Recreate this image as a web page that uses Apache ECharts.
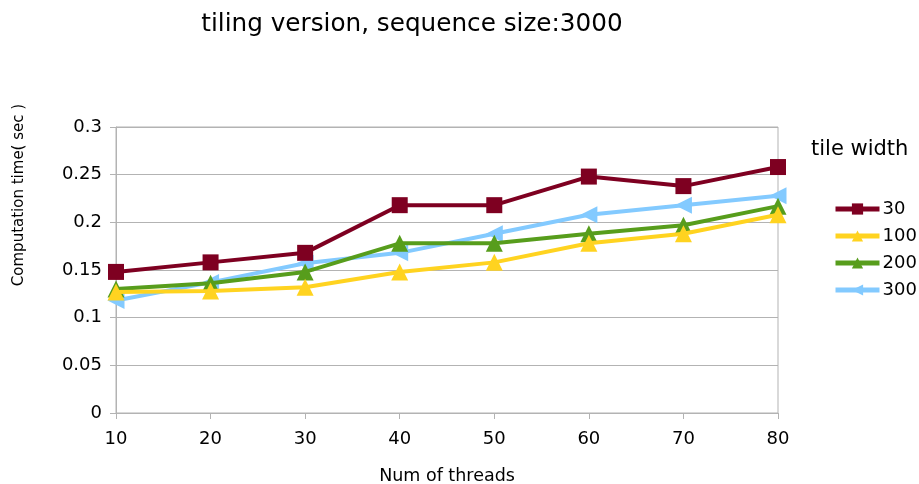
<!DOCTYPE html>
<html><head><meta charset="utf-8">
<script src="https://cdn.jsdelivr.net/npm/echarts@6/dist/echarts.min.js"></script>
<style>html,body{margin:0;padding:0;background:#fff}#c{width:919px;height:484px}</style>
</head><body><div id="c"></div>
<script>
const threads = [10, 20, 30, 40, 50, 60, 70, 80];
const seriesNames = ['30', '100', '200', '300'];
const w30 = [0.148, 0.158, 0.168, 0.218, 0.218, 0.248, 0.238, 0.258];
const w100 = [0.127, 0.128, 0.132, 0.148, 0.158, 0.178, 0.188, 0.208];
const w200 = [0.130, 0.136, 0.148, 0.178, 0.178, 0.188, 0.197, 0.217];
const w300 = [0.118, 0.137, 0.157, 0.168, 0.188, 0.208, 0.218, 0.228];
const yTicks = [0, 0.05, 0.1, 0.15, 0.2, 0.25, 0.3];

const colors = ['#7e0021', '#ffd320', '#579d1c', '#83caff'];
const symbols = ['rect', 'triangle', 'triangle', 'triangle'];
const rotates = [0, 0, 0, 90];
const allData = [w30, w100, w200, w300];
const font = 'DejaVu Sans';

const chart = echarts.init(document.getElementById('c'));
chart.setOption({
  animation: false,
  textStyle: {fontFamily: font},
  title: [{
    text: 'tiling version, sequence size:3000',
    left: 407, top: 7, textAlign: 'center',
    textStyle: {fontFamily: font, fontSize: 24.7, fontWeight: 'normal', color: '#000'}
  }, {
    text: 'tile width',
    left: 806, top: 134,
    textStyle: {fontFamily: font, fontSize: 21, fontWeight: 'normal', color: '#000'}
  }],
  graphic: [{
    type: 'text', x: 19, y: 195, rotation: Math.PI / 2,
    style: {text: 'Computation time( sec )', fontFamily: font, fontSize: 15, fill: '#000',
      textAlign: 'center', textVerticalAlign: 'middle'}
  }],
  legend: {
    orient: 'vertical',
    left: 828, top: 195, padding: 5,
    itemWidth: 44, itemHeight: 14, itemGap: 9,
    lineStyle: {width: 5},
    textStyle: {fontFamily: font, fontSize: 18, color: '#000', padding: [0, 0, 0, -2]},
    data: seriesNames
  },
  grid: {left: 116, right: 141, top: 127, bottom: 71, show: true, borderColor: '#b3b3b3', borderWidth: 1,
    containLabel: false, outerBoundsMode: 'none'},
  xAxis: {
    type: 'value', min: 10, max: 80, interval: 10,
    name: 'Num of threads', nameLocation: 'middle', nameGap: 54,
    nameTextStyle: {fontFamily: font, fontSize: 17.5, color: '#000'},
    axisLine: {lineStyle: {color: '#b3b3b3'}},
    axisTick: {show: true, length: 6, lineStyle: {color: '#b3b3b3'}},
    axisLabel: {fontFamily: font, fontSize: 18, color: '#000', margin: 17},
    splitLine: {show: false}
  },
  yAxis: {
    type: 'value', min: 0, max: 0.3, interval: 0.05,
    axisLine: {show: true, lineStyle: {color: '#b3b3b3'}},
    axisTick: {show: true, length: 6, lineStyle: {color: '#b3b3b3'}},
    axisLabel: {fontFamily: font, fontSize: 18, color: '#000', margin: 14,
      formatter: v => String(yTicks.find(t => Math.abs(t - v) < 1e-9) ?? v)},
    splitLine: {show: true, lineStyle: {color: '#b3b3b3'}}
  },
  series: seriesNames.map((n, i) => ({
    name: n, type: 'line',
    data: threads.map((t, j) => [t, allData[i][j]]),
    symbol: symbols[i], symbolSize: i === 0 ? 16 : 17, symbolRotate: rotates[i],
    showAllSymbol: true,
    lineStyle: {width: 4, color: colors[i]},
    itemStyle: {color: colors[i]},
    z: 10 - i
  }))
});
</script></body></html>
